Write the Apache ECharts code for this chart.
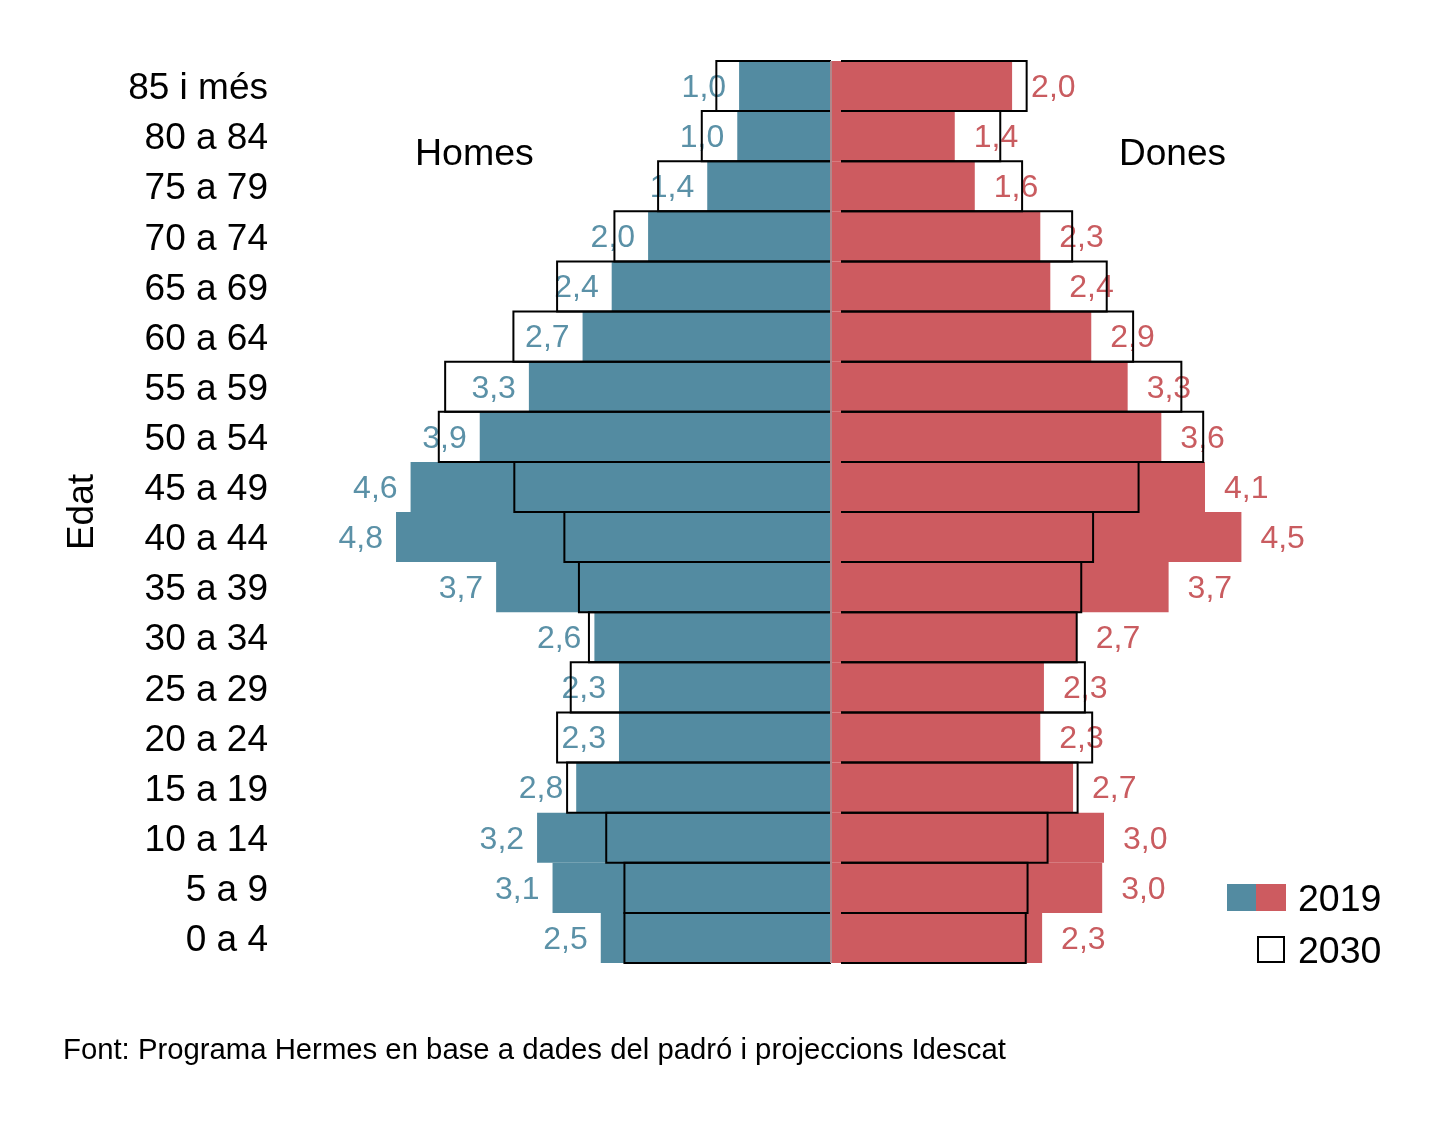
<!DOCTYPE html>
<html>
<head>
<meta charset="utf-8">
<title>Piràmide de població</title>
<script src="https://cdn.jsdelivr.net/npm/echarts@6.0.0/dist/echarts.min.js"></script>
<style>
  html, body { margin: 0; padding: 0; background: #fff; }
  #chart { width: 1441px; height: 1122px; }
</style>
</head>
<body>
<div id="chart"></div>
<script>
// grups d'edat, de dalt a baix
const ageGroups = ['85 i més', '80 a 84', '75 a 79', '70 a 74', '65 a 69', '60 a 64',
  '55 a 59', '50 a 54', '45 a 49', '40 a 44', '35 a 39', '30 a 34', '25 a 29',
  '20 a 24', '15 a 19', '10 a 14', '5 a 9', '0 a 4'];

// % sobre el total de població
const men2019 = [1.01, 1.03, 1.36, 2.01, 2.41, 2.73, 3.32, 3.86, 4.62, 4.78, 3.68, 2.60,
  2.33, 2.33, 2.80, 3.23, 3.06, 2.53];
const women2019 = [1.99, 1.36, 1.58, 2.30, 2.41, 2.86, 3.26, 3.63, 4.11, 4.51, 3.71, 2.70,
  2.34, 2.30, 2.66, 3.00, 2.98, 2.32];
const men2030 = [1.26, 1.42, 1.90, 2.38, 3.01, 3.49, 4.24, 4.31, 3.48, 2.93, 2.77, 2.66,
  2.86, 3.01, 2.90, 2.47, 2.27, 2.27];
const women2030 = [2.15, 1.86, 2.10, 2.65, 3.03, 3.32, 3.85, 4.09, 3.38, 2.88, 2.75, 2.70,
  2.79, 2.87, 2.71, 2.38, 2.16, 2.14];

const BLUE = '#538ba1';
const RED = '#cd5b60';
const FONT = '"Liberation Sans", Arial, Helvetica, sans-serif';

const chart = echarts.init(document.getElementById('chart'));

function fmt(p) {
  return Math.abs(p.value).toFixed(1).replace('.', ',');
}

// contorn 2030: tres costats, sense el costat del centre
function outline(offset) {
  return function (params, api) {
    const i = api.value(1);
    const v = api.value(0);
    const p0 = api.coord([0, i]);
    const p1 = api.coord([v, i]);
    const h = api.size([0, 1])[1];
    const x0 = p0[0] + offset;
    const y = p0[1];
    return {
      type: 'polyline',
      shape: {
        points: [[x0, y - h / 2], [p1[0], y - h / 2], [p1[0], y + h / 2], [x0, y + h / 2]]
      },
      style: { stroke: '#000', lineWidth: 2, fill: null }
    };
  };
}

const option = {
  backgroundColor: '#fff',
  animation: false,
  textStyle: { fontFamily: FONT },
  grid: { left: 376, width: 910, top: 61, height: 902 },
  xAxis: { type: 'value', min: -5, max: 5, show: false },
  yAxis: {
    type: 'category',
    data: ageGroups,
    inverse: true,
    axisLine: { show: false },
    axisTick: { show: false },
    axisLabel: {
      margin: 108,
      formatter: v => '{a|' + v + '}',
      rich: { a: { fontSize: 37, color: '#000', fontFamily: FONT, padding: [6, 0, 0, 0] } }
    },
    name: 'Edat',
    nameLocation: 'middle',
    nameRotate: 90,
    nameGap: 275,
    nameTextStyle: { fontSize: 37, color: '#000', fontFamily: FONT }
  },
  series: [
    {
      type: 'bar',
      data: men2019.map(v => -v),
      barGap: '-100%',
      barCategoryGap: '0%',
      itemStyle: { color: BLUE },
      label: {
        show: true, position: 'left', distance: 13, offset: [0, 2], formatter: fmt,
        fontSize: 32, color: '#5b91a7', fontFamily: FONT
      }
    },
    {
      type: 'bar',
      data: women2019,
      barGap: '-100%',
      barCategoryGap: '0%',
      itemStyle: { color: RED },
      label: {
        show: true, position: 'right', distance: 19, offset: [0, 2], formatter: fmt,
        fontSize: 32, color: '#c95c60', fontFamily: FONT
      }
    },
    {
      type: 'custom',
      z: 3,
      renderItem: outline(0),
      encode: { x: 0, y: 1 },
      data: men2030.map((v, i) => [-v, i])
    },
    {
      type: 'custom',
      z: 3,
      renderItem: outline(10),
      encode: { x: 0, y: 1 },
      data: women2030.map((v, i) => [v, i]),
      markLine: {
        silent: true,
        symbol: 'none',
        label: { show: false },
        lineStyle: { color: '#b0888b', width: 2, type: 'solid' },
        data: [{ xAxis: 0 }]
      }
    }
  ],
  graphic: [
    { type: 'text', left: 415, top: 136, style: { text: 'Homes', fill: '#000', font: '37.5px ' + FONT } },
    { type: 'text', left: 1119, top: 136, style: { text: 'Dones', fill: '#000', font: '37px ' + FONT } },
    // llegenda
    { type: 'rect', shape: { x: 1227, y: 884, width: 29, height: 27 }, style: { fill: BLUE } },
    { type: 'rect', shape: { x: 1256, y: 884, width: 30, height: 27 }, style: { fill: RED } },
    { type: 'text', left: 1298, top: 882, style: { text: '2019', font: '37.5px ' + FONT, fill: '#000' } },
    { type: 'rect', shape: { x: 1258, y: 937, width: 26, height: 25 }, style: { fill: '#fff', stroke: '#000', lineWidth: 2 } },
    { type: 'text', left: 1298, top: 934, style: { text: '2030', font: '37.5px ' + FONT, fill: '#000' } },
    {
      type: 'text', left: 63, top: 1036,
      style: { text: 'Font: Programa Hermes en base a dades del padró i projeccions Idescat', font: '29.3px ' + FONT, fill: '#000' }
    }
  ]
};

chart.setOption(option);
</script>
</body>
</html>
